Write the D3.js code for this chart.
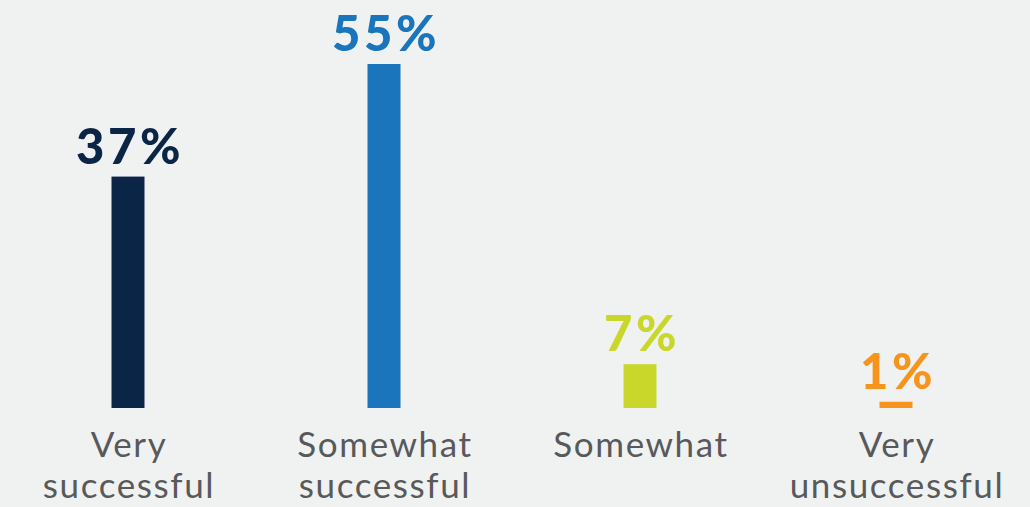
<!DOCTYPE html>
<html>
<head>
<meta charset="utf-8">
<script src="https://cdn.jsdelivr.net/npm/d3@7"></script>
<style>
  body { margin: 0; background: #f0f2f1; }
  svg { display: block; }
</style>
</head>
<body>
<script>
// chart data
var categories = [["Very", "successful"], ["Somewhat", "successful"], ["Somewhat"], ["Very", "unsuccessful"]];
var values = [37, 55, 7, 1];
var colors = ["#0b2547", "#1b75bc", "#c9d72b", "#f7941d"];

var width = 1030, height = 507;
var baseline = 408;

var svg = d3.select("body").append("svg")
  .attr("width", width)
  .attr("height", height);

svg.append("rect")
  .attr("width", width)
  .attr("height", height)
  .attr("fill", "#f0f2f1");

var idx = d3.range(values.length);

// x: one band per category
var x = d3.scaleBand().domain(idx).range([0, 1024]);
var barW = 33;

// y: percent to pixels
var y = d3.scaleLinear().domain([0, 55]).range([baseline, 64]);

svg.selectAll(".bar")
  .data(idx)
  .enter().append("rect")
  .attr("class", "bar")
  .attr("x", function(i) { return x(i) + x.bandwidth() / 2 - barW / 2; })
  .attr("y", function(i) { return y(values[i]); })
  .attr("width", barW)
  .attr("height", function(i) { return baseline - y(values[i]); })
  .attr("fill", function(i) { return colors[i]; });

svg.selectAll(".val")
  .data(idx)
  .enter().append("text")
  .attr("class", "val")
  .attr("x", function(i) { return x(i) + x.bandwidth() / 2 + 2; })
  .attr("y", function(i) { return y(values[i]) - 13; })
  .attr("text-anchor", "middle")
  .attr("font-family", "Lato, sans-serif")
  .attr("font-weight", 900)
  .attr("font-size", 49)
  .attr("letter-spacing", 3.5)
  .attr("fill", function(i) { return colors[i]; })
  .text(function(i) { return values[i] + "%"; });

var cat = svg.selectAll(".cat")
  .data(idx)
  .enter().append("text")
  .attr("class", "cat")
  .attr("text-anchor", "middle")
  .attr("font-family", "Lato, sans-serif")
  .attr("font-size", 35)
  .attr("letter-spacing", 1.6)
  .attr("fill", "#58595b");

cat.selectAll("tspan")
  .data(function(i) { return categories[i].map(function(t) { return { t: t, i: i }; }); })
  .enter().append("tspan")
  .attr("x", function(d) { return x(d.i) + x.bandwidth() / 2 + 1; })
  .attr("y", function(d, k) { return 457 + k * 41; })
  .text(function(d) { return d.t; });
</script>
</body>
</html>
